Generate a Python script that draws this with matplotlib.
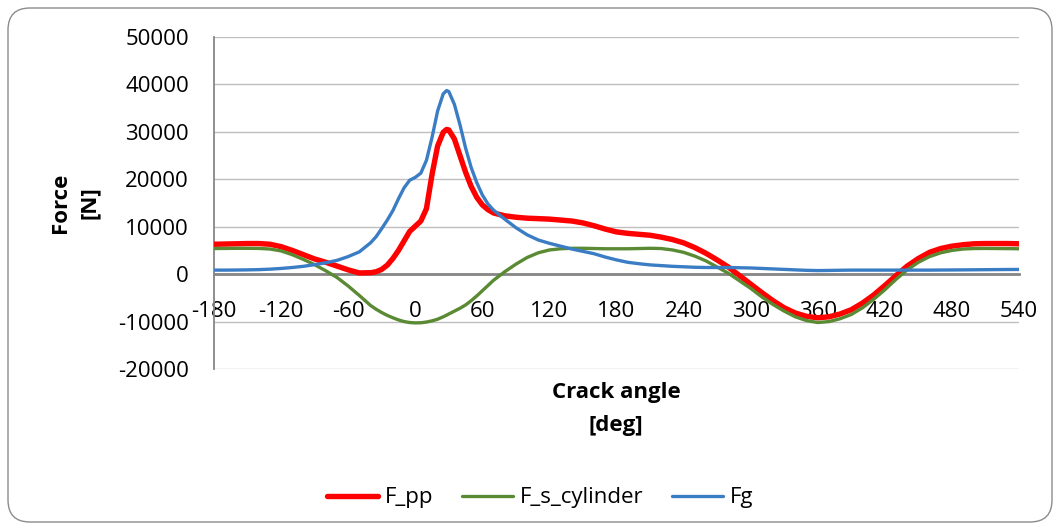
import matplotlib
matplotlib.use("Agg")
import matplotlib.pyplot as plt
from matplotlib.patches import FancyBboxPatch

# Crank angle samples [deg]
angle = [-180, -170, -160, -150, -140, -130, -120, -110, -100, -90, -80, -70, -60, -50, -40,
         -35, -30, -25, -20, -15, -10, -5, 0, 5, 10, 15, 20, 25,
         28,
         30, 35, 40, 45, 50, 55, 60, 65, 70,
         80, 90, 100, 110, 120, 130, 140, 150, 160, 170,
         180, 190, 200, 210, 220, 230, 240, 250, 260, 270,
         280, 290, 300, 310, 320, 330, 340, 350, 360, 370,
         380, 390, 400, 410, 420, 430, 440, 450, 460, 470,
         480, 490, 500, 510, 520, 530, 540]

# Resulting piston-pin force [N]
f_pp = [6300, 6350, 6400, 6450, 6450, 6300, 5800, 5000, 4100, 3200, 2500, 1700, 900, 250, 300,
        500, 1000, 1900, 3300, 5000, 7000, 9000, 10100, 11200, 13800, 21000, 27000, 29900,
        30500,
        30400, 28500, 25000, 21500, 18500, 16200, 14600, 13600, 12900,
        12300, 12000, 11800, 11700, 11600, 11400, 11200, 10800, 10200, 9500,
        8900, 8600, 8400, 8200, 7800, 7300, 6600, 5600, 4400, 3000,
        1500, -300, -2100, -3900, -5600, -7100, -8200, -8900, -9200, -9000,
        -8400, -7500, -6100, -4400, -2400, -300, 1700, 3300, 4600, 5400,
        5900, 6200, 6400, 6450, 6450, 6450, 6400]

# Inertia force of the cylinder-side masses [N]
f_s_cylinder = [5400, 5420, 5450, 5450, 5420, 5300, 4900, 4100, 3100, 2000, 700, -700, -2500, -4500, -6600,
                -7400, -8100, -8700, -9200, -9650, -10000, -10200, -10280, -10250, -10100, -9850, -9500, -9000,
                -8650,
                -8400, -7800, -7200, -6500, -5600, -4600, -3500, -2400, -1300,
                500, 2100, 3500, 4500, 5100, 5350, 5450, 5450, 5400, 5350,
                5350, 5350, 5400, 5450, 5400, 5100, 4600, 3800, 2800, 1500,
                200, -1400, -3000, -4800, -6400, -7800, -9000, -9800, -10200, -10000,
                -9400, -8500, -7100, -5300, -3300, -1100, 900, 2500, 3700, 4500,
                5000, 5300, 5400, 5420, 5400, 5380, 5350]

# Gas force [N]
fg = [850, 850, 870, 900, 950, 1050, 1200, 1400, 1650, 2000, 2400, 2900, 3700, 4700, 6600,
      7900, 9600, 11400, 13400, 15900, 18200, 19800, 20400, 21300, 24000, 28800, 34400, 38000,
      38700,
      38500, 35800, 31500, 26600, 22500, 19300, 16700, 14800, 13500,
      11600, 9800, 8300, 7200, 6500, 5900, 5300, 4800, 4300, 3600,
      3000, 2500, 2200, 1950, 1800, 1650, 1550, 1450, 1400, 1400,
      1400, 1350, 1300, 1200, 1100, 1000, 900, 800, 750, 780,
      820, 850, 850, 850, 850, 850, 850, 850, 850, 870,
      880, 900, 920, 940, 960, 980, 990]

x_ticks = list(range(-180, 541, 60))
y_ticks = list(range(-20000, 50001, 10000))

plt.rcParams['font.family'] = ['Open Sans', 'DejaVu Sans']

W, H = 1060, 530
fig = plt.figure(figsize=(W / 100, H / 100), dpi=100)

# rounded chart-area frame
frame = FancyBboxPatch((0.08, 0.08), 10.44, 5.14,
                       boxstyle="round,pad=0,rounding_size=0.22",
                       transform=fig.dpi_scale_trans, facecolor='white',
                       edgecolor='#8C8C8C', linewidth=1.0, zorder=-1)
fig.patches.append(frame)

ax = fig.add_axes([214 / W, 1 - 369 / H, (1019 - 214) / W, (369 - 37) / H])
ax.set_zorder(1)
ax.set_facecolor('none')

ax.plot(angle, f_pp, color='#FF0000', lw=3.9, label='F_pp',
        solid_joinstyle='round', solid_capstyle='round', zorder=3)
ax.plot(angle, f_s_cylinder, color='#5A8A33', lw=2.4, label='F_s_cylinder',
        solid_joinstyle='round', solid_capstyle='round', zorder=4)
ax.plot(angle, fg, color='#3B7DC4', lw=2.4, label='Fg',
        solid_joinstyle='round', solid_capstyle='round', zorder=5)

ax.set_xlim(-180, 540)
ax.set_ylim(-20000, 50000)
ax.set_xticks(x_ticks)
ax.set_xticklabels([str(v) for v in x_ticks])
ax.set_yticks(y_ticks)
ax.set_yticklabels([str(v) for v in y_ticks])

ax.grid(axis='y', color='#BFBFBF', linewidth=1.0)
ax.set_axisbelow(True)

for side in ('top', 'right'):
    ax.spines[side].set_visible(False)
ax.spines['bottom'].set_position(('data', 0))
ax.spines['bottom'].set_color('#868686')
ax.spines['bottom'].set_linewidth(2.0)
ax.spines['bottom'].set_zorder(2)
ax.spines['left'].set_color('#868686')
ax.spines['left'].set_linewidth(1.3)

ax.tick_params(axis='both', length=0, labelsize=16, colors='black')
ax.tick_params(axis='x', pad=19)
ax.tick_params(axis='y', pad=18)

fig.text(75 / W, 1 - 203 / H, 'Force\n[N]', rotation=90, ha='center', va='center',
         multialignment='center', fontsize=16, fontweight='bold', linespacing=1.55)
fig.text(616 / W, 1 - 409 / H, 'Crack angle\n[deg]', ha='center', va='center',
         multialignment='center', fontsize=16, fontweight='bold', linespacing=1.75)

fig.legend(loc='center', bbox_to_anchor=(540 / W, 1 - 498 / H), ncol=3, frameon=False,
           fontsize=16, handlelength=2.3, handletextpad=0.3, columnspacing=1.3)

fig.savefig('out.png', dpi=100)
